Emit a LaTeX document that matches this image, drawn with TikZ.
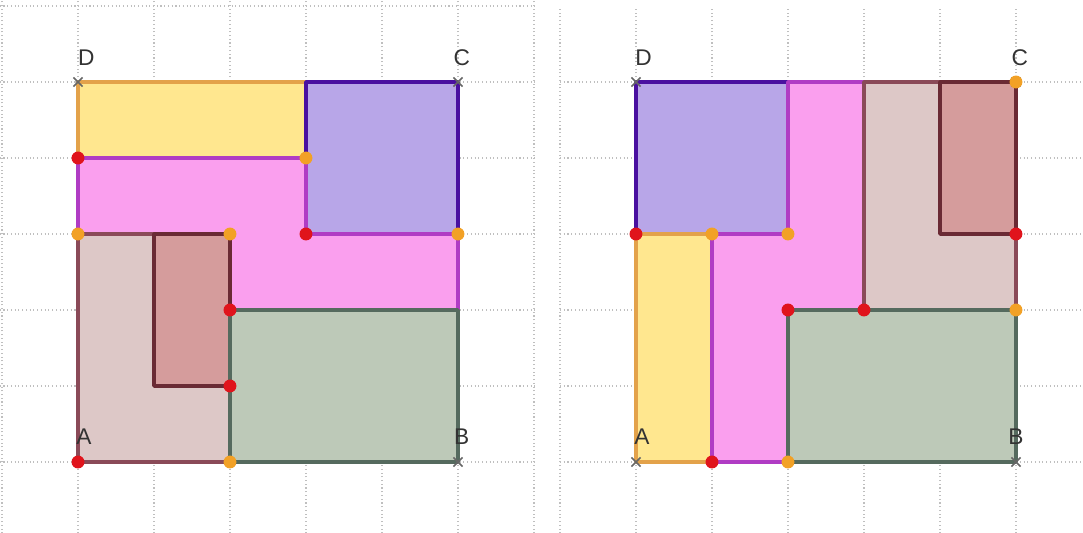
\documentclass[tikz,border=0pt]{standalone}
\usepackage{fontspec}
\setmainfont{Liberation Sans}
\definecolor{yelfill}{HTML}{FFE78F}
\definecolor{yelline}{HTML}{E3A24A}
\definecolor{pinkfill}{HTML}{FA9FEE}
\definecolor{pinkline}{HTML}{B03CC4}
\definecolor{purfill}{HTML}{B8A6E8}
\definecolor{purline}{HTML}{4A10A0}
\definecolor{rosefill}{HTML}{DDC8C7}
\definecolor{roseline}{HTML}{8A4A58}
\definecolor{drosefill}{HTML}{D59C9C}
\definecolor{droseline}{HTML}{6A2A34}
\definecolor{grnfill}{HTML}{BDC9B8}
\definecolor{grnline}{HTML}{556A5E}
\definecolor{dotred}{HTML}{E0141C}
\definecolor{dotorange}{HTML}{F2A126}
\begin{document}
\begin{tikzpicture}[
  gridline/.style={densely dotted, gray!50, line width=0.4pt},
  piece/.style={line width=1.4pt, line join=round},
  ptlabel/.style={font=\fontsize{8.5}{10}\selectfont, text=black!80, inner sep=0pt},
  cross/.style={gray!80!black, line width=0.6pt}
]
  \useasboundingbox (-1.026,-0.934) rectangle (13.224,6.079);

  % Left square: yellow strip on top, purple square at C
  \begin{scope}
    \draw[gridline] (-1.03,-0.94) grid (6.02,6.08);
    \filldraw[piece, fill=yelfill, draw=yelline] (0,4) rectangle (3,5);
    \filldraw[piece, fill=purfill, draw=purline] (3,3) rectangle (5,5);
    \filldraw[piece, fill=pinkfill, draw=pinkline]
      (0,3) -- (0,4) -- (3,4) -- (3,3) -- (5,3) -- (5,2) -- (2,2) -- (2,3) -- cycle;
    \filldraw[piece, fill=rosefill, draw=roseline] (0,0) rectangle (2,3);
    \filldraw[piece, fill=drosefill, draw=droseline] (1,1) rectangle (2,3);
    \filldraw[piece, fill=grnfill, draw=grnline] (2,0) rectangle (5,2);

    % corner crosses
    \foreach \p in {(0,5),(5,5),(5,0)} {
      \draw[cross] \p ++(-0.06,-0.06) -- ++(0.12,0.12) ++(-0.12,0) -- ++(0.12,-0.12);
    }
    % vertices
    \foreach \p in {(0,4),(3,3),(2,2),(2,1),(0,0)}
      \fill[dotred] \p circle (0.085);
    \foreach \p in {(3,4),(0,3),(2,3),(5,3),(2,0)}
      \fill[dotorange] \p circle (0.085);

    \node[ptlabel] (lD) at (0.11,5.32) {D};
    \node[ptlabel] (lC) at (5.05,5.32) {C};
    \node[ptlabel] (lA) at (0.08,0.33) {A};
    \node[ptlabel] (lB) at (5.05,0.33) {B};
  \end{scope}

  % Right square: purple square at D, yellow strip at A
  \begin{scope}[xshift=7.342cm]
    \draw[gridline] (-1.0,-0.94) grid (5.89,5.98);
    \filldraw[piece, fill=purfill, draw=purline] (0,3) rectangle (2,5);
    \filldraw[piece, fill=yelfill, draw=yelline] (0,0) rectangle (1,3);
    \filldraw[piece, fill=pinkfill, draw=pinkline]
      (1,0) -- (2,0) -- (2,2) -- (3,2) -- (3,5) -- (2,5) -- (2,3) -- (1,3) -- cycle;
    \filldraw[piece, fill=rosefill, draw=roseline] (3,2) rectangle (5,5);
    \filldraw[piece, fill=drosefill, draw=droseline] (4,3) rectangle (5,5);
    \filldraw[piece, fill=grnfill, draw=grnline] (2,0) rectangle (5,2);

    % corner crosses
    \foreach \p in {(0,5),(0,0),(5,0),(5,5)} {
      \draw[cross] \p ++(-0.06,-0.06) -- ++(0.12,0.12) ++(-0.12,0) -- ++(0.12,-0.12);
    }
    % vertices
    \foreach \p in {(0,3),(1,0),(2,2),(3,2),(5,3)}
      \fill[dotred] \p circle (0.085);
    \foreach \p in {(1,3),(2,3),(5,2),(2,0),(5,5)}
      \fill[dotorange] \p circle (0.085);

    \node[ptlabel] (rD) at (0.1,5.32) {D};
    \node[ptlabel] (rC) at (5.05,5.32) {C};
    \node[ptlabel] (rA) at (0.08,0.33) {A};
    \node[ptlabel] (rB) at (5.0,0.33) {B};
  \end{scope}
\end{tikzpicture}
\end{document}
